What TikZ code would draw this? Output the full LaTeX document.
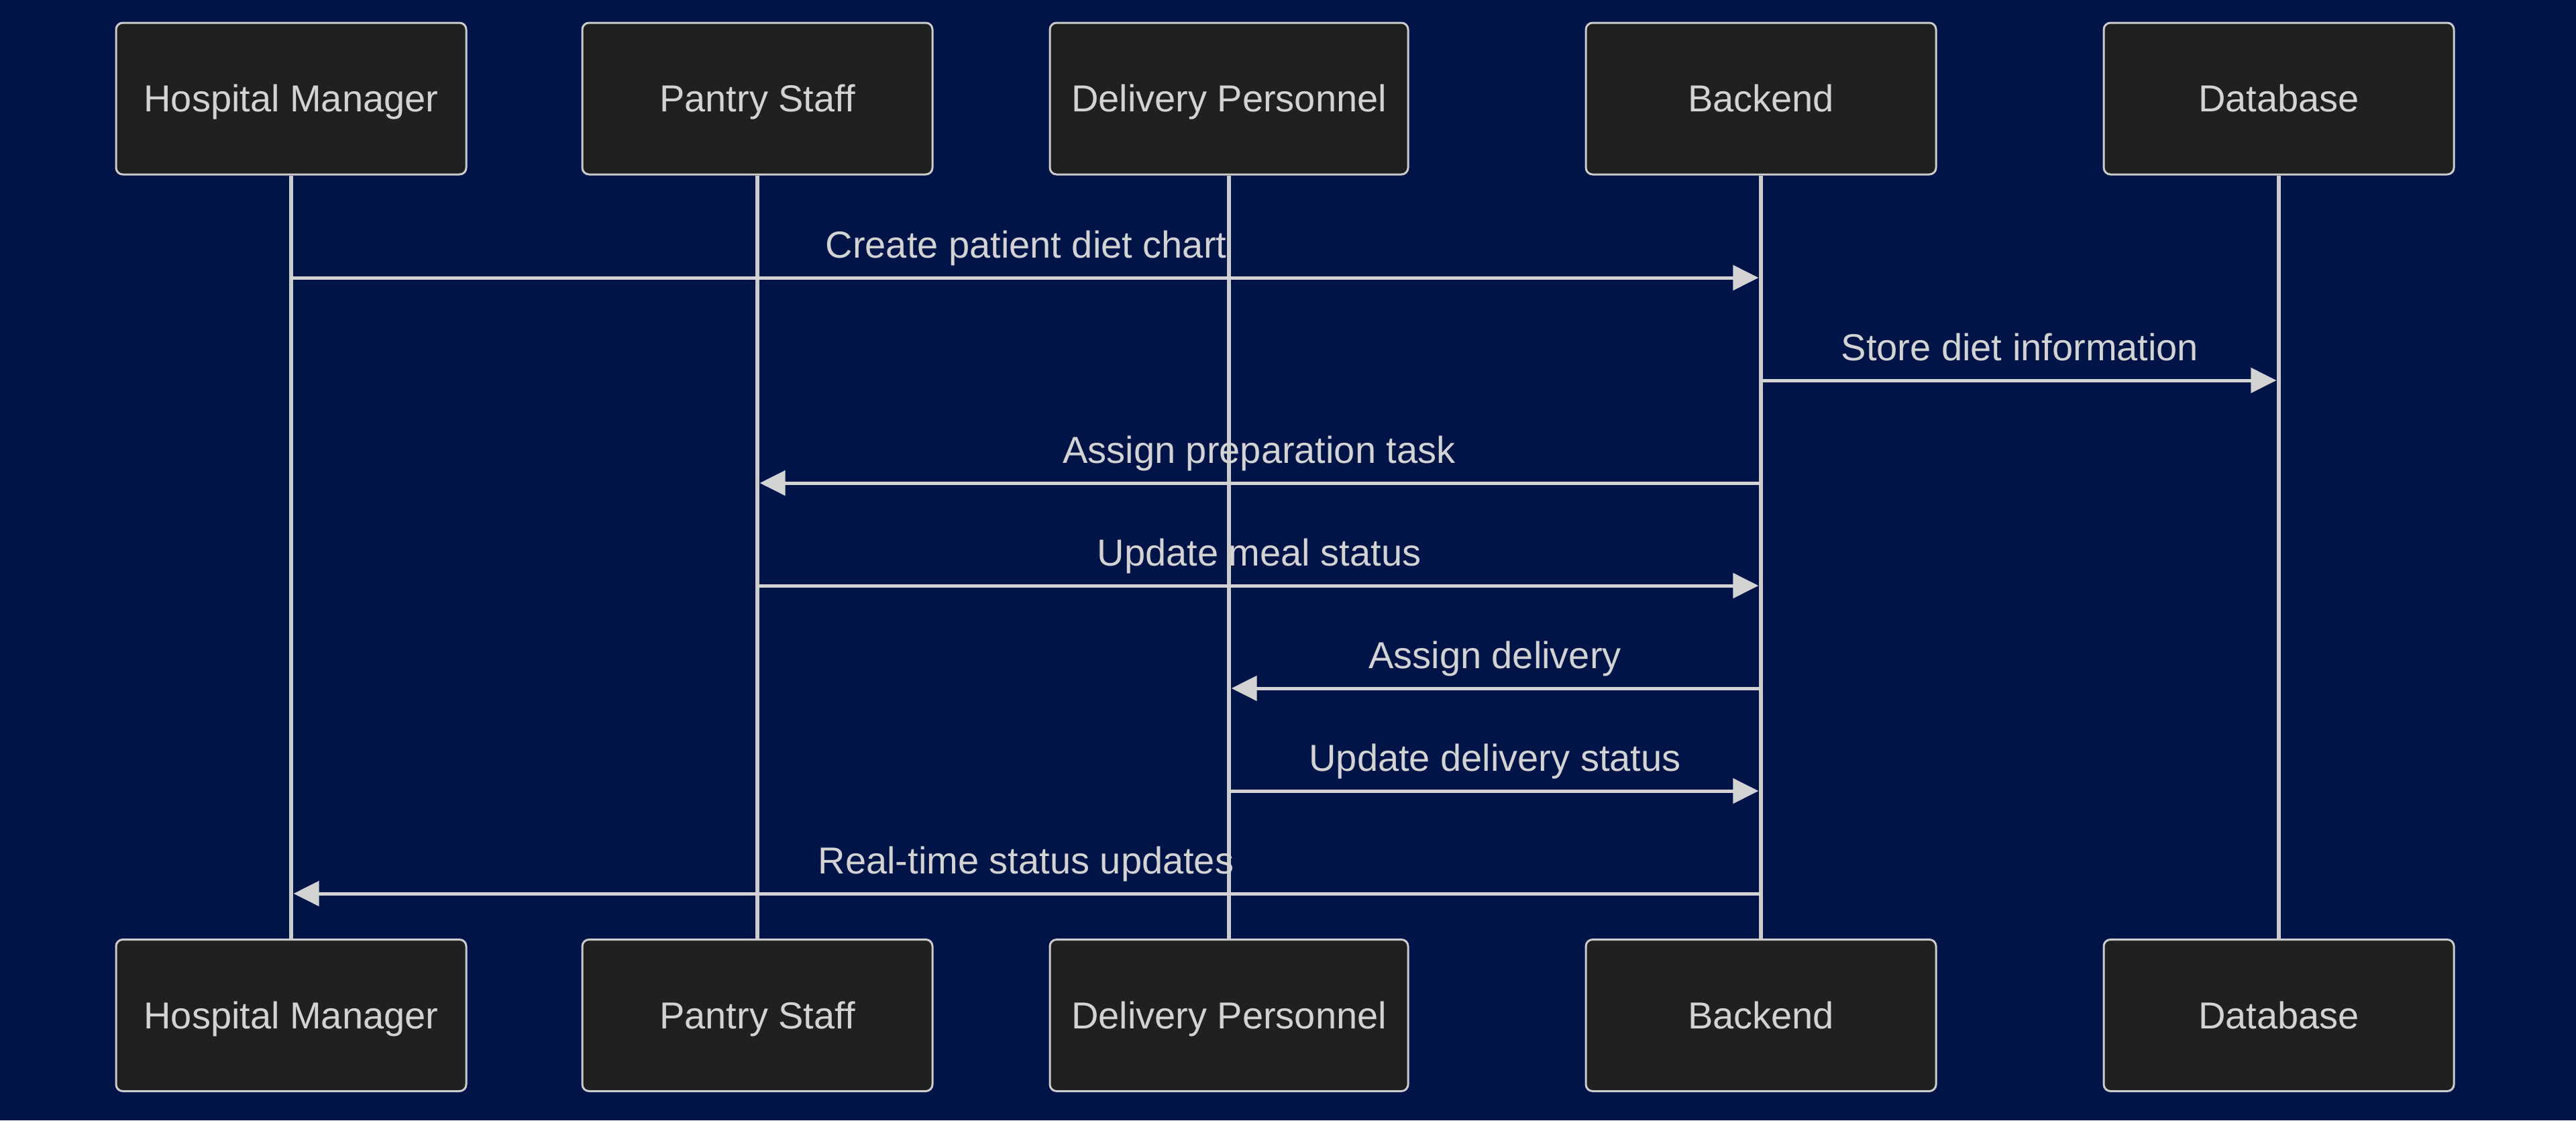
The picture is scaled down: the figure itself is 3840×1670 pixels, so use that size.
\documentclass[tikz,border=0pt]{standalone}
\usepackage{fontspec}
\setmainfont{Liberation Sans}
\usetikzlibrary{arrows.meta}
\definecolor{bgc}{RGB}{0,20,71}
\definecolor{boxfill}{RGB}{31,32,32}
\definecolor{boxline}{RGB}{204,204,204}
\definecolor{txt}{RGB}{211,211,211}
\definecolor{linec}{RGB}{211,211,211}
\tikzset{
  actor/.style={draw=boxline, line width=0.75pt, fill=boxfill, rounded corners=2.5pt,
    minimum height=56.5pt, text=txt, font=\fontsize{14pt}{16pt}\selectfont, inner sep=0pt,
    text height=9.9pt, text depth=0pt},
  life/.style={draw=boxline, line width=1.6pt},
  msg/.style={draw=linec, line width=1.25pt, -{Triangle[length=9.5pt, width=9.2pt]}, shorten >=0.9pt},
  lbl/.style={text=txt, font=\fontsize{14pt}{16pt}\selectfont, anchor=base, yshift=7.5pt, inner sep=0pt}
}
\begin{document}
\begin{tikzpicture}[x=0.25pt, y=-0.25pt]
\fill[bgc] (0,0) rectangle (3840,1670);
\useasboundingbox (0,0) rectangle (3840,1670);
% top actors
\node[actor, minimum width=130.5pt] (hmT) at (434,147) {Hospital Manager};
\node[actor, minimum width=130.5pt] (psT) at (1129,147) {Pantry Staff};
\node[actor, minimum width=133.5pt] (dpT) at (1832,147) {Delivery Personnel};
\node[actor, minimum width=130.5pt] (beT) at (2625,147) {Backend};
\node[actor, minimum width=130.5pt] (dbT) at (3397,147) {Database};
% bottom actors
\node[actor, minimum width=130.5pt] (hmB) at (434,1513.5) {Hospital Manager};
\node[actor, minimum width=130.5pt] (psB) at (1129,1513.5) {Pantry Staff};
\node[actor, minimum width=133.5pt] (dpB) at (1832,1513.5) {Delivery Personnel};
\node[actor, minimum width=130.5pt] (beB) at (2625,1513.5) {Backend};
\node[actor, minimum width=130.5pt] (dbB) at (3397,1513.5) {Database};
% lifelines
\draw[life] (hmT.south) -- (hmB.north);
\draw[life] (psT.south) -- (psB.north);
\draw[life] (dpT.south) -- (dpB.north);
\draw[life] (beT.south) -- (beB.north);
\draw[life] (dbT.south) -- (dbB.north);
% message rows
\coordinate (r1) at (0,414);
\coordinate (r2) at (0,567);
\coordinate (r3) at (0,720);
\coordinate (r4) at (0,873);
\coordinate (r5) at (0,1026);
\coordinate (r6) at (0,1179);
\coordinate (r7) at (0,1332);
\draw[msg] (hmT |- r1) -- node[lbl] (l1) {Create patient diet chart} (beT |- r1);
\draw[msg] (beT |- r2) -- node[lbl] (l2) {Store diet information} (dbT |- r2);
\draw[msg] (beT |- r3) -- node[lbl] (l3) {Assign preparation task} (psT |- r3);
\draw[msg] (psT |- r4) -- node[lbl] (l4) {Update meal status} (beT |- r4);
\draw[msg] (beT |- r5) -- node[lbl] (l5) {Assign delivery} (dpT |- r5);
\draw[msg] (dpT |- r6) -- node[lbl] (l6) {Update delivery status} (beT |- r6);
\draw[msg] (beT |- r7) -- node[lbl] (l7) {Real-time status updates} (hmT |- r7);
\end{tikzpicture}
\end{document}
